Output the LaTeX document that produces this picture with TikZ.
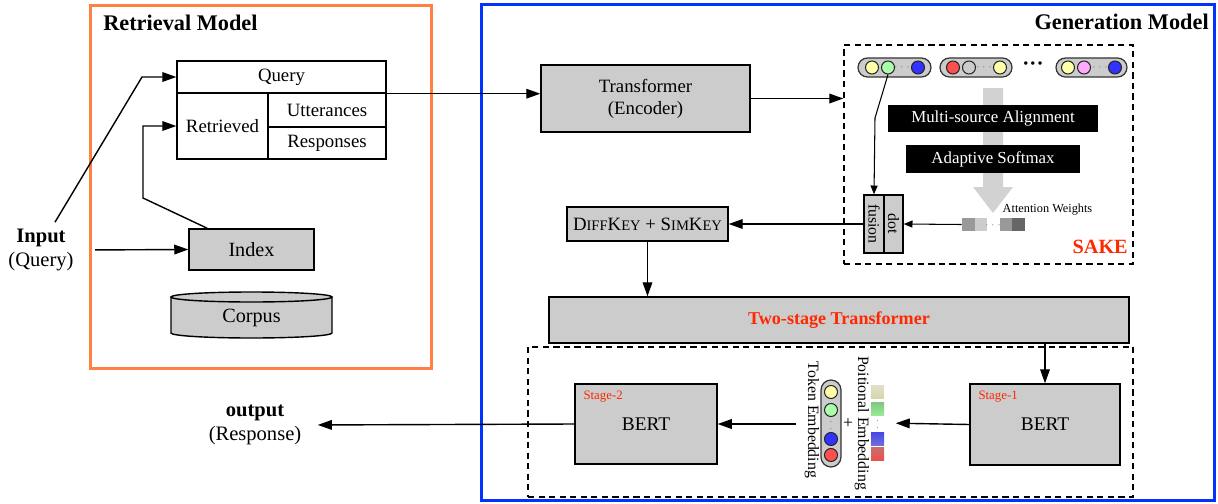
\documentclass[tikz,border=0pt]{standalone}
\usepackage{fontspec}
\setmainfont{Liberation Serif}
\usepackage{graphicx}
\usetikzlibrary{arrows.meta, positioning, calc}

\definecolor{retorange}{RGB}{255,128,64}
\definecolor{genblue}{RGB}{0,51,255}
\definecolor{boxgray}{RGB}{204,204,204}
\definecolor{flowgray}{RGB}{210,210,210}
\definecolor{sakered}{RGB}{255,40,0}
\definecolor{tokyellow}{RGB}{255,255,170}
\definecolor{tokgreen}{RGB}{170,255,170}
\definecolor{tokblue}{RGB}{51,51,255}
\definecolor{tokred}{RGB}{255,80,80}
\definecolor{tokpink}{RGB}{255,170,255}

\newcommand{\smallcap}[1]{{\fontsize{8.3}{10}\selectfont #1}}

\begin{document}
\begin{tikzpicture}[
    x=0.02cm, y=-0.02cm,
    >={Triangle[length=8pt,width=5.5pt]},
    line width=0.8pt,
    % Cajas grises con borde
    graybox/.style={
        draw,
        fill=boxgray,
        inner sep=0pt,
        align=center,
        font=\fontsize{10.7}{12.5}\selectfont
    },
    % Celdas de la tabla de consulta
    cellbox/.style={
        draw,
        fill=white,
        inner sep=0pt,
        font=\fontsize{10.7}{12.5}\selectfont
    },
    % Cajas negras del modulo SAKE
    blackbox/.style={
        fill=black,
        text=white,
        inner sep=0pt,
        font=\fontsize{9.6}{11}\selectfont
    },
    % Marcos discontinuos
    dashbox/.style={
        draw,
        dash pattern=on 3.5pt off 2.5pt,
        inner sep=0pt
    },
    % Cajas exteriores
    outerbox/.style={
        draw,
        line width=1.7pt,
        inner sep=0pt
    },
    % Secuencias de tokens
    pill/.style={
        draw=black!80,
        fill=boxgray,
        rounded corners=0.19cm,
        minimum height=0.38cm,
        inner sep=0pt,
        line width=0.7pt
    },
    tok/.style={circle, draw=black!85, minimum size=0.26cm, inner sep=0pt, line width=0.6pt},
    wsq/.style={minimum width=0.25cm, minimum height=0.26cm, inner sep=0pt},
    tinydots/.style={text=black!60, inner sep=0pt, font=\tiny},
    smallarr/.style={-{Triangle[length=5pt,width=4pt]}, line width=0.6pt},
    title/.style={font=\bfseries\fontsize{12.7}{15}\selectfont},
    stagelbl/.style={text=sakered, font=\fontsize{7.3}{8}\selectfont, inner sep=2pt}
]
    \useasboundingbox (0,0) rectangle (1218,504);

    % ==========================================
    % MODELO DE RECUPERACION (BLOQUE IZQUIERDO)
    % ==========================================
    \node[outerbox, draw=retorange, minimum width=6.84cm, minimum height=7.28cm] (retbox) at (261,187) {};
    \node[title, anchor=north west, inner xsep=8pt, inner ysep=6pt] at (retbox.north west) {Retrieval Model};

    % Tabla de consulta
    \node[cellbox, minimum width=4.18cm, minimum height=0.64cm] (query) at (281.5,77) {Query};
    \node[cellbox, minimum width=1.82cm, minimum height=1.32cm] (retrieved) at (222.5,126) {Retrieved};
    \node[cellbox, minimum width=2.36cm, minimum height=0.66cm] (utter) at (327,110) {Utterances};
    \node[cellbox, minimum width=2.36cm, minimum height=0.64cm] (resp) at (327,143) {Responses};

    % Indice y corpus
    \node[graybox, minimum width=2.5cm, minimum height=0.82cm, font=\fontsize{11.5}{13}\selectfont] (index) at (251.5,249.5) {Index};
    \draw[fill=boxgray] (171,297) -- (171,333)
        arc[start angle=180, end angle=360, x radius=1.61cm, y radius=0.1cm] -- (332,297);
    \draw[fill=boxgray] (251.5,297) ellipse[x radius=1.61cm, y radius=0.1cm];
    \node[font=\fontsize{11.5}{13}\selectfont, inner sep=0pt] (corpus) at (251.5,318) {Corpus};

    % Entrada
    \node[align=center, font=\fontsize{11.7}{14}\selectfont] (input) at (41,250) {\textbf{Input}\\(Query)};
    \draw[->] ([xshift=0.28cm]input.north) -- (142,77) -- (query.west);
    \draw[->, shorten <=0.3cm] (input.east) -- (index.west);
    \draw[->] ([xshift=0.38cm]index.north west) -- (143,198) |- (retrieved.west);


    % ==========================================
    % MODELO DE GENERACION (BLOQUE DERECHO)
    % ==========================================
    \node[outerbox, draw=genblue, minimum width=14.68cm, minimum height=9.94cm] (genbox) at (848,252.5) {};
    \node[title, anchor=north east, inner xsep=4pt, inner ysep=6pt] at (genbox.north east) {Generation Model};

    \node[graybox, minimum width=4.18cm, minimum height=1.34cm] (encoder) at (645.5,98.5) {Transformer\\(Encoder)};
    \draw[->] (query.south east) -- (encoder.west |- query.south east);

    % ==========================================
    % SAKE
    % ==========================================
    \node[dashbox, minimum width=5.78cm, minimum height=4.38cm] (sake) at (988.5,154.5) {};
    \node[anchor=south east, inner xsep=3pt, inner ysep=6pt, text=sakered, font=\bfseries\fontsize{11.5}{13}\selectfont] at (sake.south east) {SAKE};
    \draw[->] (encoder.east) -- (sake.west |- encoder.east);

    % Flecha gruesa gris
    \fill[flowgray] (983,88) -- (1003,88) -- (1003,187) -- (1013,187) -- (993,213) -- (973,187) -- (983,187) -- cycle;

    % Secuencias de entrada
    \node[pill, minimum width=1.46cm] (seqa) at (894.5,67.5) {};
    \node[tok, fill=tokyellow] (seqa1) at (872,67.5) {};
    \node[tok, fill=tokgreen] (seqa2) at (888,67.5) {};
    \node[tinydots] at (902,67.5) {$\cdots$};
    \node[tok, fill=tokblue] (seqa3) at (918,67.5) {};

    \node[pill, minimum width=1.44cm] (seqb) at (976,67.5) {};
    \node[tok, fill=tokred] (seqb1) at (953,67.5) {};
    \node[tok, fill=boxgray] (seqb2) at (969,67.5) {};
    \node[tinydots] at (984,67.5) {$\cdots$};
    \node[tok, fill=tokyellow] (seqb3) at (1000,67.5) {};

    \node[inner sep=0pt, font=\bfseries\fontsize{12}{13}\selectfont] at (1033,66) {···};

    \node[pill, minimum width=1.42cm] (seqc) at (1091.5,67.5) {};
    \node[tok, fill=tokyellow] (seqc1) at (1068,67.5) {};
    \node[tok, fill=tokpink] (seqc2) at (1084,67.5) {};
    \node[tinydots] at (1100,67.5) {$\cdots$};
    \node[tok, fill=tokblue] (seqc3) at (1115,67.5) {};

    % Alineamiento y softmax
    \node[blackbox, minimum width=4.2cm, minimum height=0.54cm] (align) at (993,118.5) {Multi-source Alignment};
    \node[blackbox, minimum width=3.48cm, minimum height=0.56cm] (softmax) at (993,159) {Adaptive Softmax};

    % Pesos de atencion
    \node[wsq, fill=black!40] (w1) at (968.5,224.5) {};
    \node[wsq, fill=black!20] (w2) at (981,224.5) {};
    \node[tinydots] at (993,225) {$\cdots$};
    \node[wsq, fill=black!40] (w3) at (1006.5,224.5) {};
    \node[wsq, fill=black!60] (w4) at (1018.5,224.5) {};
    \node[anchor=west, inner sep=0pt, font=\fontsize{7}{8}\selectfont] at (1002,210) {Attention Weights};

    % Fusion por producto punto
    \node[graybox, minimum width=0.4cm, minimum height=1.16cm, font=\fontsize{9}{10}\selectfont] (fusion) at (874,224) {\rotatebox{-90}{fusion}};
    \node[graybox, minimum width=0.38cm, minimum height=1.16cm, font=\fontsize{9}{10}\selectfont] (dotpart) at (893.5,224) {\rotatebox{-90}{dot}};

    \draw[smallarr] (seqa2.south) -- (875,118) -- (fusion.north);
    \draw[smallarr] (w1.west) -- (dotpart.east);

    % ==========================================
    % CLAVES Y TRANSFORMER DE DOS ETAPAS
    % ==========================================
    \node[graybox, minimum width=3.22cm, minimum height=0.68cm] (keys) at (647.5,224) {D\smallcap{IFF}K\smallcap{EY} + S\smallcap{IM}K\smallcap{EY}};
    \draw[->] (fusion.west) -- (keys.east);

    \node[graybox, minimum width=11.6cm, minimum height=0.92cm, text=sakered, font=\bfseries\fontsize{10.3}{12}\selectfont] (twostage) at (839,320) {Two-stage Transformer};
    \draw[->] (keys.south) -- (keys.south |- twostage.north);

    % ==========================================
    % BERT EN DOS ETAPAS
    % ==========================================
    \node[dashbox, minimum width=12.1cm, minimum height=3.0cm] (bertbox) at (830.5,422) {};

    \node[graybox, minimum width=3.0cm, minimum height=1.62cm, font=\fontsize{11}{13}\selectfont] (stageone) at (1045,424.5) {BERT};
    \node[stagelbl, anchor=north west] at ([xshift=0.1cm, yshift=-0.06cm]stageone.north west) {Stage-1};
    \draw[->] (stageone.north |- twostage.south) -- (stageone.north);

    \node[graybox, minimum width=2.84cm, minimum height=1.6cm, font=\fontsize{11}{13}\selectfont] (stagetwo) at (646,424) {BERT};
    \node[stagelbl, anchor=north west] at ([xshift=0.1cm, yshift=-0.06cm]stagetwo.north west) {Stage-2};

    % Embeddings de posicion
    \node[wsq, minimum width=0.26cm, top color={rgb,255:red,225;green,225;blue,205}, bottom color={rgb,255:red,215;green,215;blue,170}] (pos1) at (877.5,391.5) {};
    \node[wsq, minimum width=0.26cm, top color={rgb,255:red,130;green,200;blue,130}, bottom color={rgb,255:red,150;green,235;blue,150}] (pos2) at (877.5,409) {};
    \node[tinydots] at (877.5,423) {$\vdots$};
    \node[wsq, minimum width=0.26cm, top color={rgb,255:red,70;green,70;blue,230}, bottom color={rgb,255:red,110;green,110;blue,220}] (pos3) at (877.5,438.5) {};
    \node[wsq, minimum width=0.26cm, top color={rgb,255:red,200;green,110;blue,110}, bottom color={rgb,255:red,235;green,80;blue,80}] (pos4) at (877.5,453.5) {};
    \node[inner sep=0pt, font=\fontsize{9}{10}\selectfont] (poslbl) at (862,423) {\rotatebox{-90}{Poitional Embedding}};
    \node[inner sep=0pt, minimum width=0.26cm] (posemb) at (877.5,423) {};
    \draw[->, shorten >=0.22cm] (stageone.west) -- (posemb.east);

    \node[font=\fontsize{10}{11}\selectfont] (plus) at (848,424) {+};

    % Embeddings de token
    \node[pill, minimum width=0.4cm, minimum height=1.74cm, rounded corners=0.2cm] (tokemb) at (831,423.5) {};
    \node[tok, fill=tokyellow] (tok1) at (831,392) {};
    \node[tok, fill=tokgreen] (tok2) at (831,410) {};
    \node[tinydots] at (831,424) {$\vdots$};
    \node[tok, fill=tokblue] (tok3) at (831,439) {};
    \node[tok, fill=tokred] (tok4) at (831,455) {};
    \node[inner sep=0pt, font=\fontsize{9}{10}\selectfont] (toklbl) at (812,420) {\rotatebox{-90}{Token Embedding}};
    \draw[->, shorten <=0.16cm] (toklbl.west |- stagetwo.east) -- (stagetwo.east);

    % Salida
    \node[align=center, font=\fontsize{11.7}{14}\selectfont] (output) at (255,425) {\textbf{output}\\(Response)};
    \draw[->, shorten >=0.2cm] (stagetwo.west) -- (output.east);

\end{tikzpicture}
\end{document}
